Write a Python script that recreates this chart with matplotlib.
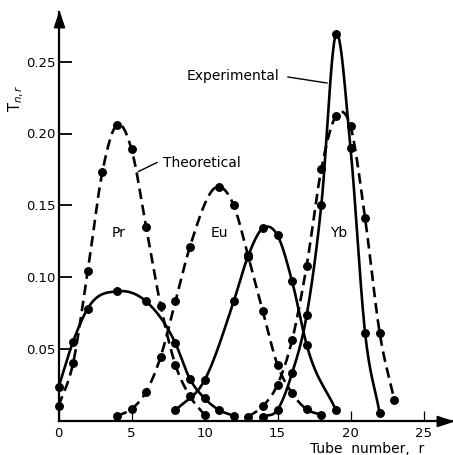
import numpy as np
import matplotlib
matplotlib.use("Agg")
import matplotlib.pyplot as plt

# Tube number r and distribution T(n,r) for each element
pr_theo_r = [0, 1, 2, 3, 4, 5, 6, 7, 8, 9, 10]
pr_theo_t = [0.010, 0.040, 0.104, 0.173, 0.206, 0.189, 0.135, 0.080, 0.039, 0.017, 0.004]
pr_exp_r = [0, 1, 2, 4, 6, 8, 9, 10, 11, 12]
pr_exp_t = [0.023, 0.055, 0.078, 0.090, 0.083, 0.054, 0.029, 0.0155, 0.0073, 0.0033]

eu_theo_r = [4, 5, 6, 7, 8, 9, 11, 12, 13, 14, 15, 16, 17, 18]
eu_theo_t = [0.003, 0.008, 0.020, 0.0445, 0.083, 0.121, 0.163, 0.150, 0.114, 0.076,
             0.0387, 0.019, 0.0078, 0.004]
eu_exp_r = [8, 10, 12, 13, 14, 15, 16, 17, 19]
eu_exp_t = [0.007, 0.028, 0.083, 0.115, 0.134, 0.129, 0.097, 0.0526, 0.0073]

yb_theo_r = [13, 14, 15, 16, 17, 18, 19, 20, 21, 22, 23]
yb_theo_t = [0.0026, 0.010, 0.025, 0.056, 0.108, 0.175, 0.212, 0.205, 0.141, 0.061, 0.0143]
yb_exp_r = [14, 15, 16, 17, 18, 19, 20, 21, 22]
yb_exp_t = [0.0026, 0.0075, 0.033, 0.0735, 0.150, 0.269, 0.190, 0.061, 0.005]

x_ticks = [0, 5, 10, 15, 20, 25]
y_ticks = [0.05, 0.10, 0.15, 0.20, 0.25]
y_tick_labels = ["0.05", "0.10", "0.15", "0.20", "0.25"]


def smooth_curve(x, y, steps=24):
    """Cubic Hermite curve through the points, tangents from finite differences."""
    x = np.asarray(x, float)
    y = np.asarray(y, float)
    m = np.gradient(y, x)
    xs, ys = [], []
    for i in range(len(x) - 1):
        h = x[i + 1] - x[i]
        t = np.linspace(0, 1, steps, endpoint=False)
        h00 = 2 * t**3 - 3 * t**2 + 1
        h10 = t**3 - 2 * t**2 + t
        h01 = -2 * t**3 + 3 * t**2
        h11 = t**3 - t**2
        xs.append(x[i] + t * h)
        ys.append(h00 * y[i] + h10 * h * m[i] + h01 * y[i + 1] + h11 * h * m[i + 1])
    xs.append([x[-1]])
    ys.append([y[-1]])
    return np.concatenate(xs), np.clip(np.concatenate(ys), 0, None)


W, H, DPI = 453, 455, 100
fig = plt.figure(figsize=(W / DPI, H / DPI), dpi=DPI)

# axes geometry in pixels
x0_px, y0_px = 58.5, 420.5
px_per_r, px_per_t = 14.6, 1435.0
right_px, top_px = 452.0, 12.0
xmax = (right_px - x0_px) / px_per_r
ymax = (y0_px - top_px) / px_per_t

ax = fig.add_axes([x0_px / W, (H - y0_px) / H, (right_px - x0_px) / W, (y0_px - top_px) / H])
ax.set_xlim(0, xmax)
ax.set_ylim(0, ymax)
for side in ("top", "right"):
    ax.spines[side].set_visible(False)
for side in ("left", "bottom"):
    ax.spines[side].set_linewidth(1.6)

FS = 9.5
FS_TXT = 10
ax.set_xticks(x_ticks)
ax.set_xticklabels([str(v) for v in x_ticks], fontsize=FS)
ax.set_yticks(y_ticks)
ax.set_yticklabels(y_tick_labels, fontsize=FS)
ax.tick_params(axis="x", direction="in", length=7, width=0.9, pad=5)
ax.tick_params(axis="y", direction="in", length=9, width=1.3, pad=2)

LW = 1.9
MS = 5.4
series = [
    (pr_theo_r, pr_theo_t, True),
    (pr_exp_r, pr_exp_t, False),
    (eu_theo_r, eu_theo_t, True),
    (eu_exp_r, eu_exp_t, False),
    (yb_theo_r, yb_theo_t, True),
    (yb_exp_r, yb_exp_t, False),
]
for r, t, dashed in series:
    cx, cy = smooth_curve(r, t)
    if dashed:
        ax.plot(cx, cy, color="black", lw=LW, dashes=(4, 2.2), clip_on=False)
    else:
        ax.plot(cx, cy, color="black", lw=LW, clip_on=False)
    ax.plot(r, t, "o", color="black", ms=MS, clip_on=False)

# arrow heads at the ends of both axes
up = [(-1, -3), (1, -3), (0, 0), (-1, -3)]
rightward = [(-3, -1), (-3, 1), (0, 0), (-3, -1)]
ax.plot([0], [ymax], marker=up, ms=22, color="black", clip_on=False)
ax.plot([xmax], [0], marker=rightward, ms=22, color="black", clip_on=False)


def px_to_data(px, py):
    return (px - x0_px) / px_per_r, (y0_px - py) / px_per_t


# annotations
tx, ty = px_to_data(187, 76)
ax.text(tx, ty, "Experimental", fontsize=FS_TXT, ha="left", va="center")
a, b = px_to_data(288, 77), px_to_data(327, 83)
ax.plot([a[0], b[0]], [a[1], b[1]], color="black", lw=1.0)

tx, ty = px_to_data(163, 163)
ax.text(tx, ty, "Theoretical", fontsize=FS_TXT, ha="left", va="center")
a, b = px_to_data(157, 162.5), px_to_data(138.5, 171.5)
ax.plot([a[0], b[0]], [a[1], b[1]], color="black", lw=1.0)

for name, cx in (("Pr", 118.5), ("Eu", 219), ("Yb", 338.5)):
    tx, ty = px_to_data(cx, 232.5)
    ax.text(tx, ty, name, fontsize=FS_TXT, ha="center", va="center")

fig.text(16 / W, 1 - 98 / H, r"T$_{n,r}$", fontsize=10.5, rotation=90,
         ha="center", va="center")
fig.text(367 / W, 1 - 449 / H, "Tube  number,  r", fontsize=FS_TXT,
         ha="center", va="center")

fig.savefig("out.png", dpi=DPI)
